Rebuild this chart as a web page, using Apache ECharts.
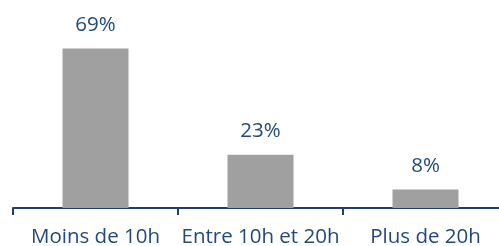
<!DOCTYPE html>
<html>
<head>
<meta charset="utf-8">
<script src="https://cdn.jsdelivr.net/npm/echarts@6/dist/echarts.min.js"></script>
<style>
html,body{margin:0;padding:0;background:#fff;}
#chart{width:499px;height:246px;}
</style>
</head>
<body>
<div id="chart"></div>
<script>
const categories = ['Moins de 10h', 'Entre 10h et 20h', 'Plus de 20h'];
const values = [69, 23, 8];

const chart = echarts.init(document.getElementById('chart'), null, {renderer: 'canvas'});
chart.setOption({
  animation: false,
  grid: {left: 13, top: 0, width: 495, height: 208, containLabel: false, outerBoundsMode: 'none'},
  xAxis: {
    type: 'category',
    data: categories,
    axisLine: {lineStyle: {color: '#1F3F74', width: 2}},
    axisTick: {show: true, length: 7, lineStyle: {color: '#1F3F74', width: 2}},
    axisLabel: {
      color: '#1F497D', fontFamily: 'Open Sans', fontSize: 20.5, margin: 19, interval: 0
    }
  },
  yAxis: {
    type: 'value', min: 0, max: 90,
    show: false, splitLine: {show: false}
  },
  series: [{
    type: 'bar',
    data: values,
    barWidth: 66,
    itemStyle: {color: '#A0A0A0'},
    label: {
      show: true, position: 'top', distance: 13,
      formatter: '{c}%',
      color: '#1F497D', fontFamily: 'Open Sans', fontSize: 20.5
    }
  }]
});
</script>
</body>
</html>
